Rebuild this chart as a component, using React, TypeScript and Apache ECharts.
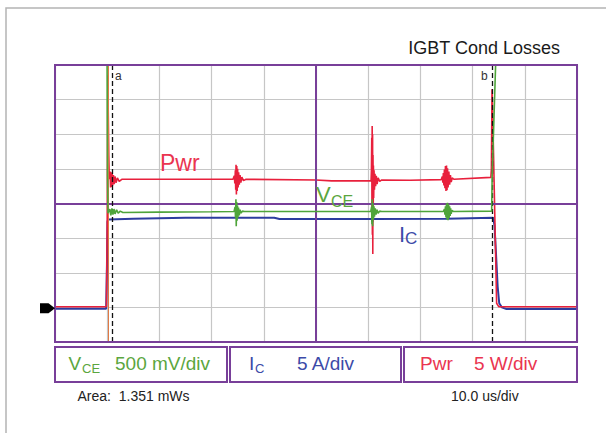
import React, { useEffect, useRef } from "react";
import * as echarts from "echarts";

// Time axis: microseconds, 10 us/div, 10 divisions
const timeMin = 0;
const timeMax = 100;
const timeDiv = 10;

// Channel scales (per division) — zero level sits 3 divisions below centre
const vceRange = [-0.5, 3.5]; // V, 0.5 V/div
const icRange = [-5, 35]; // A, 5 A/div
const pwrRange = [-5, 35]; // W, 5 W/div
const vceDiv = 0.5;
const vceCentre = 1.5;

// Cursors / markers (us)
const cursorA = 11.0;
const cursorB = 83.8;
const triggerTime = 10.2;
const centreTime = 50;

// Collector-emitter voltage (V)
const vceTrace: [number, number][] = [
  [0, 4.2], [9.95, 4.2], [10.05, 1.9], [10.15, 1.36], [10.5, 1.42], [10.7, 1.33], [10.9, 1.43],
  [11.1, 1.34], [11.3, 1.42], [11.5, 1.35], [11.8, 1.41], [12.1, 1.36], [12.5, 1.39], [13, 1.37],
  [20, 1.375], [30, 1.38], [34.3, 1.385], [34.5, 1.45], [34.58, 1.3], [34.66, 1.56], [34.72, 1.17],
  [34.8, 1.52], [34.88, 1.25], [34.96, 1.47], [35.05, 1.3], [35.15, 1.44], [35.3, 1.33], [35.45, 1.41],
  [35.65, 1.36], [35.9, 1.39], [36.3, 1.385], [48, 1.385], [60.5, 1.385], [60.65, 1.45], [60.72, 1.2],
  [60.78, 1.56], [60.85, 1.17], [60.92, 1.5], [61.0, 1.27], [61.1, 1.46], [61.2, 1.31], [61.35, 1.43],
  [61.5, 1.34], [61.7, 1.41], [61.9, 1.36], [62.2, 1.39], [62.6, 1.385], [74.4, 1.385], [74.6, 1.42],
  [74.7, 1.34], [74.8, 1.46], [74.9, 1.3], [75.0, 1.5], [75.1, 1.27], [75.2, 1.51], [75.3, 1.26],
  [75.4, 1.49], [75.5, 1.29], [75.6, 1.46], [75.7, 1.32], [75.8, 1.43], [75.9, 1.35], [76.05, 1.4],
  [76.3, 1.385], [83.65, 1.39], [83.75, 1.9], [84.45, 3.6], [84.6, 4.2], [100, 4.2],
];

// Collector current (A)
const icTrace: [number, number][] = [
  [0, -0.2], [9.8, -0.2], [9.95, 6], [10.05, 12.4], [10.2, 12.7], [15, 12.8], [25, 12.95],
  [42, 12.95], [43, 12.75], [60.7, 12.75], [60.8, 12.3], [60.9, 13.1], [61.0, 12.75], [75, 12.8],
  [83.95, 12.95], [84.2, 11.8], [84.5, 7.5], [84.8, 3], [85.1, 0.6], [85.6, 0.0], [86.5, -0.25],
  [100, -0.25],
];

// Instantaneous power (W)
const pwrTrace: [number, number][] = [
  [0, 0.1], [9.85, 0.1], [10.0, 12], [10.12, 33.5], [10.3, 22], [10.4, 18.5], [10.55, 19.6],
  [10.65, 17.3], [10.75, 19.5], [10.85, 17.4], [10.95, 19.3], [11.05, 17.6], [11.2, 19.1],
  [11.35, 17.8], [11.5, 18.9], [11.7, 18.0], [11.95, 18.7], [12.3, 18.2], [12.8, 18.5], [20, 18.5],
  [30, 18.5], [34.1, 18.5], [34.35, 19.0], [34.45, 17.9], [34.55, 19.8], [34.62, 17.0], [34.68, 20.6],
  [34.75, 16.3], [34.82, 20.4], [34.9, 16.8], [34.98, 20.0], [35.08, 17.3], [35.18, 19.5],
  [35.3, 17.7], [35.45, 19.1], [35.6, 18.0], [35.8, 18.8], [36.1, 18.3], [36.6, 18.5], [50, 18.4],
  [53, 18.27], [60.55, 18.27], [60.62, 19.8], [60.68, 24.5], [60.72, 14.5], [60.76, 26.2],
  [60.8, 10.5], [60.84, 25], [60.88, 7.7], [60.92, 22], [60.96, 13], [61.0, 20.5], [61.05, 15.8],
  [61.12, 19.8], [61.2, 17.0], [61.3, 19.3], [61.42, 17.5], [61.55, 19.0], [61.7, 17.8],
  [61.9, 18.7], [62.2, 18.2], [62.6, 18.4], [68, 18.35], [74.0, 18.45], [74.2, 18.9], [74.3, 18.0],
  [74.4, 19.4], [74.5, 17.6], [74.6, 19.9], [74.7, 17.2], [74.8, 20.4], [74.9, 16.8], [75.0, 20.5],
  [75.1, 16.9], [75.2, 20.1], [75.3, 17.3], [75.45, 19.6], [75.6, 17.7], [75.75, 19.1], [75.9, 18.1],
  [76.1, 18.7], [76.4, 18.5], [83.5, 18.77], [83.6, 20], [83.72, 31.5], [83.85, 28], [84.6, 0.6],
  [85, 0.1], [100, 0.1],
];

const titleText = "IGBT Cond Losses";
const areaText = "Area:  1.351 mWs";
const timebaseText = "10.0 us/div";

const PURPLE = "#783f99";
const GREEN = "#4ea43a";
const BLUE = "#2d3c9f";
const RED = "#e8203c";
const GREEN_T = "#5ba63e";
const BLUE_T = "#3c4aa8";
const RED_T = "#ea3550";
const FONT = "Liberation Sans, Arial, sans-serif";

function txt(text: string, x: number, y: number, size: number, fill: string, align = "left") {
  return {
    type: "text",
    z: 120,
    style: { text, x, y, fill, font: `${size}px ${FONT}`, align, verticalAlign: "middle" },
  };
}

export default function App() {
  const ref = useRef<HTMLDivElement>(null);
  useEffect(() => {
    if (!ref.current) return;
    const chart = echarts.init(ref.current, undefined, { renderer: "svg" });
    const gridL = 55, gridT = 65, gridW = 522, gridH = 277;
    const option: any = {
      animation: false,
      backgroundColor: "#ffffff",
      grid: { left: gridL, top: gridT, width: gridW, height: gridH, show: false },
      xAxis: {
        type: "value",
        min: timeMin,
        max: timeMax,
        interval: timeDiv,
        axisLine: { show: false },
        axisTick: { show: false },
        axisLabel: { show: false },
        splitLine: { show: true, lineStyle: { color: "#c6c6c6", width: 1.2 } },
      },
      yAxis: [
        {
          type: "value", min: vceRange[0], max: vceRange[1], interval: vceDiv,
          axisLine: { show: false }, axisTick: { show: false }, axisLabel: { show: false },
          splitLine: { show: true, lineStyle: { color: "#c6c6c6", width: 1.2 } },
        },
        {
          type: "value", min: icRange[0], max: icRange[1],
          axisLine: { show: false }, axisTick: { show: false }, axisLabel: { show: false },
          splitLine: { show: false },
        },
        {
          type: "value", min: pwrRange[0], max: pwrRange[1],
          axisLine: { show: false }, axisTick: { show: false }, axisLabel: { show: false },
          splitLine: { show: false },
        },
      ],
      series: [
        {
          type: "line",
          name: "markers",
          z: 1,
          yAxisIndex: 0,
          data: [[-10, -10]],
          symbol: "none",
          lineStyle: { opacity: 0 },
          markLine: {
            silent: true,
            symbol: "none",
            label: { show: false },
            animation: false,
            data: [
              { xAxis: centreTime, lineStyle: { color: PURPLE, width: 2, type: "solid" } },
              { yAxis: vceCentre, lineStyle: { color: PURPLE, width: 2, type: "solid" } },
              { xAxis: triggerTime, lineStyle: { color: "#e07a45", width: 1, type: "solid" } },
              { xAxis: cursorA, lineStyle: { color: "#111", width: 1.3, type: [5, 3] } },
              { xAxis: cursorB, lineStyle: { color: "#111", width: 1.3, type: [5, 3] } },
            ],
          },
        },
        {
          type: "line", name: "Ic", yAxisIndex: 1, z: 3, data: icTrace, symbol: "none",
          lineStyle: { color: BLUE, width: 2 },
        },
        {
          type: "line", name: "Pwr", yAxisIndex: 2, z: 4, data: pwrTrace, symbol: "none",
          lineStyle: { color: RED, width: 1.6 },
        },
        {
          type: "line", name: "Vce", yAxisIndex: 0, z: 5, data: vceTrace, symbol: "none",
          lineStyle: { color: GREEN, width: 1.6 },
        },
      ],
      graphic: [
        {
          type: "polyline", z: 100,
          shape: { points: [[6, 433], [6, 8], [606, 8]] },
          style: { stroke: "#b4b4b4", lineWidth: 1.5, fill: "none" },
        },
        {
          type: "rect", z: 100,
          shape: { x: gridL, y: gridT, width: gridW, height: gridH },
          style: { stroke: PURPLE, lineWidth: 2, fill: "none" },
        },
        {
          type: "rect", z: 100,
          shape: { x: 55, y: 347, width: 172, height: 35 },
          style: { stroke: PURPLE, lineWidth: 2, fill: "none" },
        },
        {
          type: "rect", z: 100,
          shape: { x: 230, y: 347, width: 171, height: 35 },
          style: { stroke: PURPLE, lineWidth: 2, fill: "none" },
        },
        {
          type: "rect", z: 100,
          shape: { x: 404, y: 347, width: 173, height: 35 },
          style: { stroke: PURPLE, lineWidth: 2, fill: "none" },
        },
        {
          type: "polygon", z: 100,
          shape: { points: [[40, 303.3], [48.5, 303.3], [55, 308.3], [48.5, 313.3], [40, 313.3]] },
          style: { fill: "#000" },
        },
        txt(titleText, 560, 48, 18, "#1a1a1a", "right"),
        txt("a", 115, 76, 12, "#333"),
        txt("b", 481, 76, 12, "#333"),
        txt("Pwr", 160, 163, 23, RED_T),
        txt("V", 316, 194, 22, GREEN_T),
        txt("CE", 331, 201, 16, GREEN_T),
        txt("I", 399, 234, 22, BLUE_T),
        txt("C", 405, 238, 17, BLUE_T),
        txt("V", 68.5, 363, 19, GREEN_T),
        txt("CE", 82, 368, 13, GREEN_T),
        txt("500 mV/div", 115, 363, 19, GREEN_T),
        txt("I", 249, 363, 19, BLUE_T),
        txt("C", 255, 368, 13, BLUE_T),
        txt("5 A/div", 297, 363, 19, BLUE_T),
        txt("Pwr", 420, 363, 19, RED_T),
        txt("5 W/div", 474, 363, 19, RED_T),
        txt(areaText, 77.5, 396, 14, "#222"),
        txt(timebaseText, 451, 396, 14, "#222"),
      ],
    };
    chart.setOption(option);
    return () => chart.dispose();
  }, []);
  return (
    <div
      ref={ref}
      style={{ position: "fixed", left: 0, top: 0, width: 606, height: 433, background: "#fff" }}
    />
  );
}
